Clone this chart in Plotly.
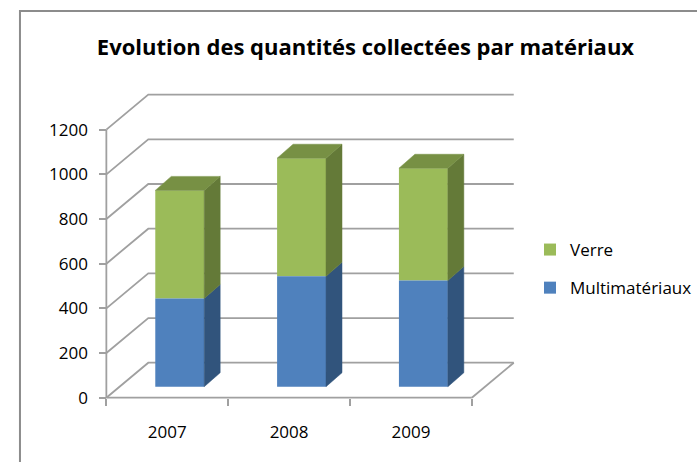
import plotly.graph_objects as go

years = ["2007", "2008", "2009"]
multimateriaux = [395, 494, 475]
verre = [484, 529, 503]
y_ticks = [0, 200, 400, 600, 800, 1000, 1200]

W, H = 697, 462
X0_PX, Y0_PX = 106.5, 397.7       # origin of the front axes
PX_X = 122.0                      # px per category
PX_Y = 44.67 / 200                # px per unit
WALL_DX, WALL_DY = 42 / PX_X, 35 / PX_Y
BAR_SHIFT_X, BAR_SHIFT_Y = 12.5 / PX_X, 11 / PX_Y
BAR_DX, BAR_DY = 16 / PX_X, 14 / PX_Y
BAR_W = 49 / PX_X
GRID = "#a0a0a0"
BLUE, BLUE_SIDE = "#4F81BD", "#31547C"
GREEN, GREEN_SIDE, GREEN_TOP = "#9BBB59", "#647A38", "#779044"
FONT = "Open Sans"

x_range = [-X0_PX / PX_X, (W - X0_PX) / PX_X]
y_range = [-(H - Y0_PX) / PX_Y, Y0_PX / PX_Y]
n = len(years)

fig = go.Figure()


def line(xs, ys):
    fig.add_trace(go.Scatter(x=xs, y=ys, mode="lines", showlegend=False, hoverinfo="skip",
                             line=dict(color=GRID, width=1.8), xaxis="x", yaxis="y"))


# back wall, side wall and floor
for v in y_ticks:
    line([0, WALL_DX, n + WALL_DX], [v, v + WALL_DY, v + WALL_DY])
line([n, n + WALL_DX], [0, WALL_DY])
line([0, 0], [0, y_ticks[-1]])
line([0, n], [0, 0])


def poly(xs, ys, color):
    fig.add_trace(go.Scatter(x=xs, y=ys, mode="lines", fill="toself", fillcolor=color,
                             line=dict(color=color, width=0.5), showlegend=False,
                             hoverinfo="skip", xaxis="x2", yaxis="y2"))


centres = [i + 0.5 + BAR_SHIFT_X for i in range(n)]
bases = [BAR_SHIFT_Y] * n
tops_m = [b + m for b, m in zip(bases, multimateriaux)]
tops_v = [t + v for t, v in zip(tops_m, verre)]

fig.add_trace(go.Bar(x=centres, y=verre, base=tops_m, width=BAR_W, name="Verre",
                     marker=dict(color=GREEN, line=dict(width=0)), xaxis="x2", yaxis="y2",
                     legendgroup="v"))
fig.add_trace(go.Bar(x=centres, y=multimateriaux, base=bases, width=BAR_W, name="Multimatériaux",
                     marker=dict(color=BLUE, line=dict(width=0)), xaxis="x2", yaxis="y2",
                     legendgroup="m"))

for c, b, tm, tv in zip(centres, bases, tops_m, tops_v):
    r = c + BAR_W / 2
    l = c - BAR_W / 2
    poly([r, r + BAR_DX, r + BAR_DX, r, r], [b, b + BAR_DY, tm + BAR_DY, tm, b], BLUE_SIDE)
    poly([r, r + BAR_DX, r + BAR_DX, r, r], [tm, tm + BAR_DY, tv + BAR_DY, tv, tm], GREEN_SIDE)
    poly([l, l + BAR_DX, r + BAR_DX, r, l], [tv, tv + BAR_DY, tv + BAR_DY, tv, tv], GREEN_TOP)

axis_font = dict(family=FONT, size=17, color="#000000")
fig.update_layout(
    width=W, height=H, autosize=False,
    margin=dict(l=0, r=0, t=0, b=0),
    paper_bgcolor="white", plot_bgcolor="rgba(0,0,0,0)",
    barmode="overlay", hovermode=False, dragmode=False,
    title=dict(text="<b>Evolution des quantités collectées par matériaux</b>",
               font=dict(family=FONT, size=22, color="#000000"),
               x=366 / W, xanchor="center", xref="paper",
               y=1 - 47 / H, yanchor="middle", yref="paper"),
    xaxis=dict(range=x_range, anchor="free", position=(H - Y0_PX) / H, showgrid=False,
               zeroline=False, showline=False, tickmode="array",
               tickvals=[i + 0.5 for i in range(n)], ticktext=years, ticks="",
               minor=dict(tickmode="array", tickvals=list(range(n + 1)), ticks="outside",
                          ticklen=7, tickwidth=1.8, tickcolor=GRID, showgrid=False),
               ticklabelstandoff=22, tickfont=axis_font, fixedrange=True),
    yaxis=dict(range=y_range, anchor="free", position=X0_PX / W, showgrid=False,
               zeroline=False, showline=False, tickmode="array", tickvals=y_ticks,
               ticks="outside", ticklen=7, tickwidth=1.8, tickcolor=GRID,
               ticklabelstandoff=8, tickfont=axis_font, fixedrange=True),
    xaxis2=dict(range=x_range, overlaying="x", visible=False, fixedrange=True),
    yaxis2=dict(range=y_range, overlaying="y", visible=False, fixedrange=True),
    legend=dict(x=531 / W, xanchor="left", y=1 - 232 / H, yanchor="top",
                traceorder="grouped", tracegroupgap=13, bgcolor="rgba(0,0,0,0)",
                font=dict(family=FONT, size=17, color="#000000"), itemclick=False,
                itemdoubleclick=False),
    shapes=[dict(type="rect", xref="paper", yref="paper", x0=20 / W, x1=1.01, y0=-0.01, y1=1 - 11 / H,
                 line=dict(color="#8c8c8c", width=2), fillcolor="rgba(0,0,0,0)", layer="above")],
)

fig.write_html("out.html", config=dict(displayModeBar=False),
               post_script="document.body.style.margin='0';")
